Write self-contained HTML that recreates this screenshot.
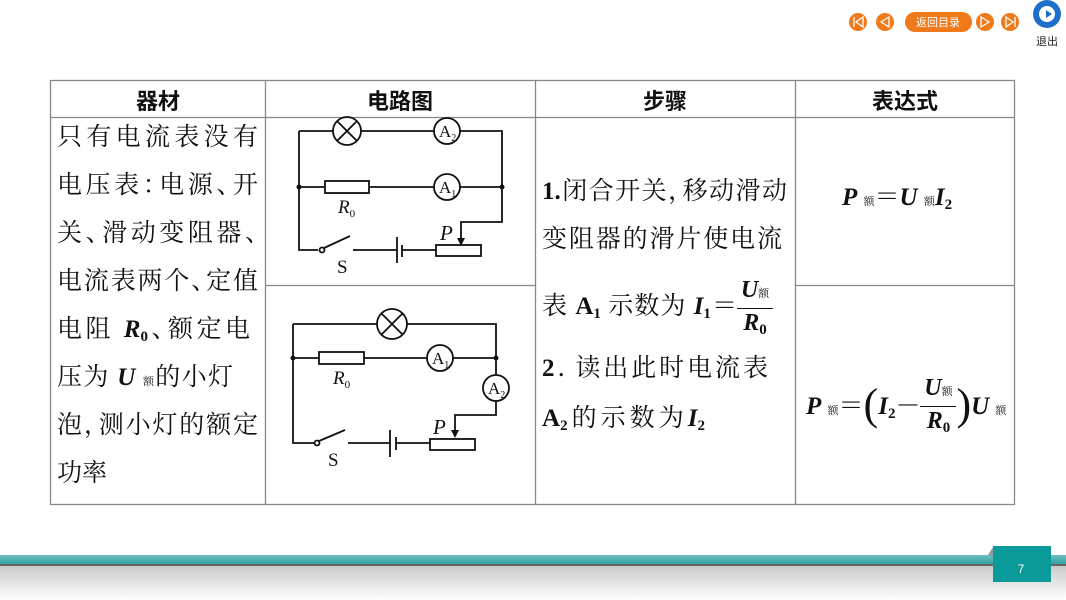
<!DOCTYPE html>
<html><head><meta charset="utf-8"><style>
body{margin:0;width:1066px;height:600px;position:relative;background:#fff;overflow:hidden;font-family:"Liberation Serif","Noto Serif CJK SC",serif;color:#111}
.t{position:absolute;font-size:25px;line-height:30px;white-space:nowrap;letter-spacing:0;text-align:justify;text-align-last:justify}
.h{position:absolute;font-family:"Liberation Sans","Noto Sans CJK SC",sans-serif;font-weight:bold;font-size:22px;top:84px;transform:translateX(-50%)}
b i,i b{font-style:italic;font-weight:bold}
.s{font-size:11px;letter-spacing:0}
sub{font-size:15px;vertical-align:-4px;line-height:0}
</style></head><body>
<svg width="1066" height="600" style="position:absolute;left:0;top:0">
<defs><linearGradient id="g" x1="0" y1="0" x2="0" y2="1"><stop offset="0" stop-color="#c9c9c9"/><stop offset="1" stop-color="#fff"/></linearGradient>
<linearGradient id="tl" x1="0" y1="0" x2="0" y2="1"><stop offset="0" stop-color="#6cc0c0"/><stop offset="1" stop-color="#2e9e9e"/></linearGradient></defs>
<g stroke="#888" stroke-width="1.3" fill="none">
<rect x="50.5" y="80.5" width="964" height="424"/>
<line x1="50" y1="117.5" x2="1015" y2="117.5"/>
<line x1="265.5" y1="80" x2="265.5" y2="505"/>
<line x1="535.5" y1="80" x2="535.5" y2="505"/>
<line x1="795.5" y1="80" x2="795.5" y2="505"/>
<line x1="265" y1="285.5" x2="535" y2="285.5"/>
<line x1="795" y1="285.5" x2="1015" y2="285.5"/>
</g>
<g stroke="#111" stroke-width="1.8" fill="none">
<path d="M299 131H333M361 131H434M460 131H502V222H461V240"/>
<path d="M299 131V250H318"/>
<path d="M299 187H325M369 187H434M460 187H502"/>
<rect x="325" y="181" width="44" height="12"/>
<circle cx="347" cy="131" r="14"/><path d="M337 121L357 141M357 121L337 141"/>
<circle cx="447" cy="131" r="13"/><circle cx="447" cy="187" r="13"/>
<circle cx="322" cy="250" r="2.5" fill="#fff"/><path d="M324 248L350 236"/>
<path d="M353 250H397M397 237V263M402 245V257M402 250H436"/>
<rect x="436" y="245" width="45" height="11"/>
</g>
<path d="M457 238L465 238L461 246Z" fill="#111"/>
<circle cx="299" cy="187" r="2.5" fill="#111"/><circle cx="502" cy="187" r="2.5" fill="#111"/>
<g stroke="#111" stroke-width="1.8" fill="none">
<path d="M293 324H377M407 324H496V375M496 401V415H455V432"/>
<path d="M293 324V443H314"/>
<path d="M293 358H319M364 358H427M453 358H496"/>
<rect x="319" y="352" width="45" height="12"/>
<circle cx="392" cy="324" r="15"/><path d="M381 313L403 335M403 313L381 335"/>
<circle cx="440" cy="358" r="13"/><circle cx="496" cy="388" r="13"/>
<circle cx="317" cy="443" r="2.5" fill="#fff"/><path d="M319 441L345 430"/>
<path d="M348 443H390M390 430V457M396 437V450M396 443H430"/>
<rect x="430" y="439" width="45" height="11"/>
</g>
<path d="M451 430L459 430L455 438Z" fill="#111"/>
<circle cx="293" cy="358" r="2.5" fill="#111"/><circle cx="496" cy="358" r="2.5" fill="#111"/>
<g font-family="Liberation Serif" font-size="17" fill="#111">
<text x="439" y="137">A<tspan font-size="10" dy="4">2</tspan></text>
<text x="439" y="193">A<tspan font-size="10" dy="4">1</tspan></text>
<text x="432" y="364">A<tspan font-size="10" dy="4">1</tspan></text>
<text x="488" y="394">A<tspan font-size="10" dy="4">2</tspan></text>
<text x="338" y="213" font-style="italic" font-size="19">R<tspan font-style="normal" font-size="11" dy="4">0</tspan></text>
<text x="333" y="384" font-style="italic" font-size="19">R<tspan font-style="normal" font-size="11" dy="4">0</tspan></text>
<text x="337" y="273" font-size="19">S</text>
<text x="328" y="466" font-size="19">S</text>
<text x="440" y="240" font-style="italic" font-size="21">P</text>
<text x="433" y="434" font-style="italic" font-size="21">P</text>
</g>
<rect x="0" y="565" width="1066" height="35" fill="url(#g)"/>
<rect x="0" y="555" width="1066" height="10" fill="url(#tl)"/>
<rect x="0" y="564" width="1066" height="2" fill="#666"/>
<path d="M988 555L993 547V556Z" fill="#999"/>
<rect x="993" y="546" width="58" height="36" fill="#0a9a9a"/>
<text x="1021" y="573" font-family="Liberation Sans" font-size="12" fill="#fff" text-anchor="middle">7</text>
<g fill="#f07a1a"><circle cx="858" cy="22" r="9"/><circle cx="885" cy="22" r="9"/><rect x="905" y="12" width="67" height="20" rx="10"/><circle cx="985" cy="22" r="9"/><circle cx="1010" cy="22" r="9"/></g>
<g stroke="#fff" stroke-width="1.3" fill="none"><path d="M854 17V27M863 17L856 22L863 27Z"/><path d="M889 17L881 22L889 27Z"/><path d="M981 17L989 22L981 27Z"/><path d="M1006 17L1013 22L1006 27ZM1015 17V27"/></g>
<text x="938" y="26" font-family="Liberation Sans,Noto Sans CJK SC" font-size="11" fill="#fff" text-anchor="middle">返回目录</text>
<circle cx="1047" cy="14" r="14" fill="#1d6fc9"/><circle cx="1047" cy="14" r="8" fill="#fff"/><path d="M1046 10L1052 14L1046 18Z" fill="#1d6fc9"/>
<text x="1047" y="45" font-family="Liberation Sans,Noto Sans CJK SC" font-size="11" fill="#222" text-anchor="middle">退出</text>
</svg>
<div class="h" style="left:158px">器材</div>
<div class="h" style="left:400px">电路图</div>
<div class="h" style="left:665px">步骤</div>
<div class="h" style="left:905px">表达式</div>
<div class="t" style="left:57px;top:123px;width:201px">只有电流表没有</div>
<div class="t" style="left:57px;top:171px;width:201px">电压表<span style="letter-spacing:-12px">：</span>电源<span style="letter-spacing:-12px">、</span>开</div>
<div class="t" style="left:57px;top:219px;width:201px">关<span style="letter-spacing:-12px">、</span>滑动变阻器<span style="letter-spacing:-12px">、</span></div>
<div class="t" style="left:57px;top:267px;width:201px">电流表两个<span style="letter-spacing:-12px">、</span>定值</div>
<div class="t" style="left:57px;top:315px;width:193px">电阻 <b><i>R</i><sub>0</sub></b><span style="letter-spacing:-12px">、</span>额定电</div>
<div class="t" style="left:57px;top:363px;width:176px">压为 <b><i>U</i></b> <span class="s">额</span>的小灯</div>
<div class="t" style="left:57px;top:411px;width:201px">泡<span style="letter-spacing:-12px">，</span>测小灯的额定</div>
<div class="t" style="left:57px;top:459px;text-align-last:left">功率</div>
<div class="t" style="left:542px;top:177px;width:245px"><b>1.</b>闭合开关<span style="letter-spacing:-12px">，</span>移动滑动</div>
<div class="t" style="left:542px;top:225px;width:240px">变阻器的滑片使电流</div>
<div class="t" style="left:542px;top:292px;width:195px">表 <b>A<sub>1</sub></b> 示数为 <b><i>I</i><sub>1</sub></b>＝</div>
<div style="position:absolute;left:737px;top:276px;width:36px;text-align:center;font-size:24px;line-height:28px"><b><i>U</i></b><span class="s">额</span><div style="border-top:1.3px solid #111"></div><b><i>R</i><sub>0</sub></b></div>
<div class="t" style="left:542px;top:354px;width:226px"><b>2</b><span style="letter-spacing:-10px">．</span>读出此时电流表</div>
<div class="t" style="left:542px;top:404px;width:163px"><b>A<sub>2</sub></b>的示数为<b><i>I</i><sub>2</sub></b></div>
<div class="t" style="left:842px;top:183px;text-align-last:left"><b><i>P</i></b> <span class="s">额</span>＝<b><i>U</i></b> <span class="s">额</span><b><i>I</i><sub>2</sub></b></div>
<div class="t" style="left:806px;top:378px;text-align-last:left"><b><i>P</i></b> <span class="s">额</span>＝<span style="font-size:44px;position:relative;top:5px;font-weight:100">(</span><b><i>I</i><sub>2</sub></b>－<span style="display:inline-block;width:36px;vertical-align:middle;text-align:center;text-align-last:center;font-size:24px;line-height:28px;position:relative;top:-4px"><b><i>U</i></b><span class="s">额</span><div style="border-top:1.3px solid #111"></div><b><i>R</i><sub>0</sub></b></span><span style="font-size:44px;position:relative;top:5px;font-weight:100">)</span><b><i>U</i></b> <span class="s">额</span></div>
</body></html>
